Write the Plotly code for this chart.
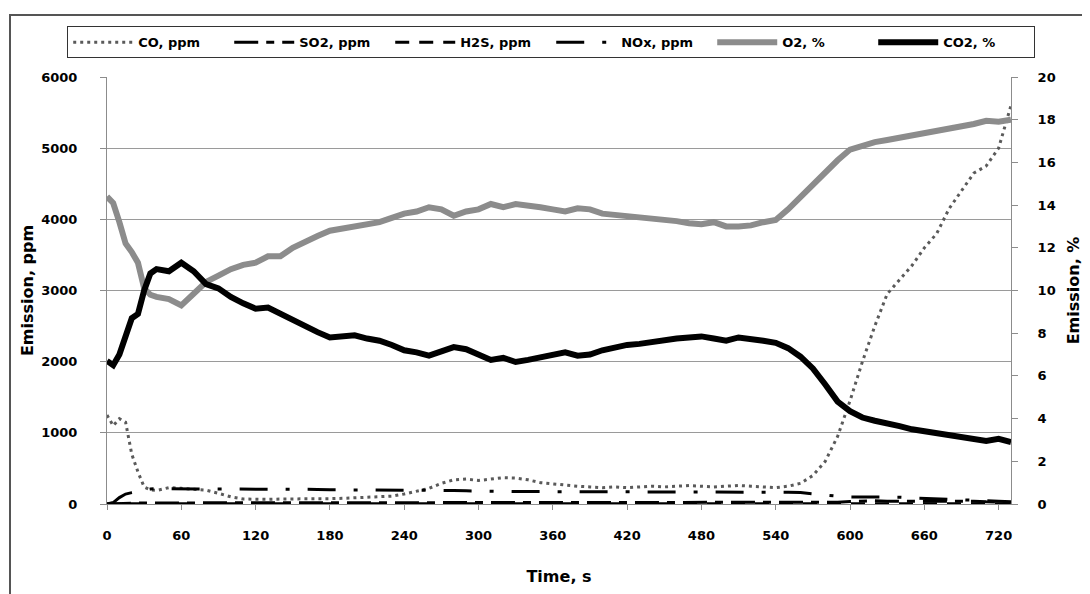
import plotly.graph_objects as go

# ---- data ----
time_s = [0, 5, 10, 15, 20, 25, 30, 35, 40, 50, 60, 70, 80, 90, 100, 110, 120, 130, 140, 150,
          160, 170, 180, 190, 200, 210, 220, 230, 240, 250, 260, 270, 280, 290, 300, 310, 320,
          330, 340, 350, 360, 370, 380, 390, 400, 410, 420, 430, 440, 450, 460, 470, 480, 490,
          500, 510, 520, 530, 540, 550, 560, 570, 580, 590, 600, 610, 620, 630, 640, 650, 660,
          670, 680, 690, 700, 710, 720, 730]

co_ppm = [1250, 1100, 1200, 1150, 700, 450, 240, 200, 190, 230, 220, 210, 195, 150, 100, 70, 65,
          65, 70, 70, 65, 70, 75, 80, 85, 90, 95, 110, 140, 180, 220, 290, 340, 350, 330, 350, 370,
          365, 340, 300, 280, 260, 250, 240, 230, 240, 230, 240, 250, 240, 250, 260, 250, 240,
          250, 260, 250, 240, 230, 250, 290, 400, 600, 950, 1450, 2000, 2500, 2950, 3150, 3350,
          3600, 3800, 4150, 4400, 4650, 4750, 5000, 5600]

so2_ppm = [0, 5, 10, 15, 15, 15, 15, 15, 15, 15, 15, 15, 15, 15, 15, 15, 15, 15, 15, 15,
           15, 15, 15, 15, 15, 15, 15, 15, 15, 15, 15, 15, 15, 15, 15, 15, 15, 15, 15, 15,
           15, 15, 15, 15, 15, 15, 15, 15, 15, 15, 15, 15, 15, 15, 15, 15, 15, 15, 15, 15,
           15, 15, 20, 25, 35, 45, 45, 40, 40, 40, 40, 40, 45, 40, 40, 30, 25, 20]

h2s_ppm = [0, 2, 3, 4, 5, 5, 5, 5, 5, 5, 5, 5, 5, 5, 5, 5, 5, 5, 5, 5,
           5, 5, 5, 5, 5, 5, 5, 5, 5, 5, 5, 5, 5, 5, 5, 5, 5, 5, 5, 5,
           5, 5, 5, 5, 5, 5, 5, 5, 5, 5, 5, 5, 5, 5, 5, 5, 5, 5, 5, 5,
           5, 5, 5, 5, 5, 5, 5, 5, 5, 5, 5, 5, 5, 5, 5, 5, 5, 5]

nox_ppm = [0, 20, 90, 140, 160, 180, 200, 210, 215, 215, 210, 210, 205, 205, 210, 210, 210,
           205, 205, 210, 210, 205, 200, 200, 200, 195, 195, 195, 195, 190, 190, 190, 190, 185,
           180, 175, 175, 175, 175, 175, 175, 175, 175, 175, 175, 175, 175, 175, 175, 175, 175,
           175, 175, 175, 175, 175, 175, 170, 170, 165, 160, 140, 120, 110, 100, 100, 100, 100,
           95, 85, 80, 70, 60, 60, 55, 45, 40, 30]

o2_pct = [14.4, 14.1, 13.2, 12.2, 11.8, 11.3, 10.1, 9.8, 9.7, 9.6, 9.3, 9.9, 10.4, 10.7, 11.0,
          11.2, 11.3, 11.6, 11.6, 12.0, 12.3, 12.55, 12.8, 12.9, 12.95, 13.1, 13.2, 13.4, 13.6,
          13.7, 13.9, 13.8, 13.5, 13.7, 13.8, 14.05, 13.9, 14.05, 14.0, 13.9, 13.8, 13.7, 13.85,
          13.8, 13.6, 13.55, 13.5, 13.45, 13.4, 13.35, 13.25, 13.15, 13.1, 13.2, 13.0, 13.0,
          13.05, 13.2, 13.3, 13.8, 14.4, 14.9, 15.5, 16.1, 16.6, 16.8, 16.95, 17.05, 17.15,
          17.3, 17.4, 17.5, 17.6, 17.65, 17.8, 17.95, 17.9, 18.0]

co2_pct = [6.7, 6.5, 7.0, 7.9, 8.7, 8.9, 10.0, 10.8, 11.0, 10.9, 11.3, 10.9, 10.3, 10.1, 9.7,
           9.4, 9.15, 9.2, 8.9, 8.6, 8.3, 8.05, 7.8, 7.85, 7.9, 7.75, 7.65, 7.45, 7.2, 7.1, 6.95,
           7.15, 7.35, 7.25, 7.0, 6.75, 6.85, 6.65, 6.75, 6.85, 7.0, 7.1, 6.95, 7.0, 7.2, 7.35,
           7.45, 7.5, 7.6, 7.65, 7.75, 7.8, 7.85, 7.75, 7.65, 7.8, 7.75, 7.65, 7.55, 7.3, 6.9,
           6.35, 5.6, 4.8, 4.35, 4.05, 3.9, 3.8, 3.65, 3.5, 3.4, 3.3, 3.2, 3.15, 3.0, 2.95, 3.05,
           2.9]

x_ticks = [0, 60, 120, 180, 240, 300, 360, 420, 480, 540, 600, 660, 720]
ppm_ticks = [0, 1000, 2000, 3000, 4000, 5000, 6000]
ppm_grid = [1000, 2000, 3000, 4000, 5000]
pct_ticks = [0, 2, 4, 6, 8, 10, 12, 14, 16, 18, 20]

FONT = "DejaVu Sans"
FS = 13
AX = "#8c8c8c"

fig = go.Figure()
fig.add_trace(go.Scatter(x=time_s, y=co_ppm, name="CO, ppm", mode="lines",
                         line=dict(color="#5a5a5a", width=3, dash="3px,4px")))
fig.add_trace(go.Scatter(x=time_s, y=so2_ppm, name="SO2, ppm", mode="lines",
                         line=dict(color="#000000", width=3, dash="24px,8px,8px,8px")))
fig.add_trace(go.Scatter(x=time_s, y=h2s_ppm, name="H2S, ppm", mode="lines",
                         line=dict(color="#000000", width=3, dash="14px,10px")))
fig.add_trace(go.Scatter(x=time_s, y=nox_ppm, name="NOx, ppm", mode="lines",
                         line=dict(color="#000000", width=3, dash="28px,18px,4px,18px")))
fig.add_trace(go.Scatter(x=time_s, y=o2_pct, name="O2, %", mode="lines", yaxis="y2",
                         line=dict(color="#8c8c8c", width=6)))
fig.add_trace(go.Scatter(x=time_s, y=co2_pct, name="CO2, %", mode="lines", yaxis="y2",
                         line=dict(color="#000000", width=6)))

# the page body adds an 8px offset; the figure's right 8px fall outside the window
fig.update_layout(
    width=1090, height=586,
    margin=dict(l=99, r=87, t=69, b=90),
    paper_bgcolor="white", plot_bgcolor="white",
    font=dict(family=FONT, size=FS, color="black", weight="bold"),
    showlegend=True,
    legend=dict(orientation="h", x=-0.044, xanchor="left", y=1.119, yanchor="top",
                bordercolor="#333333", borderwidth=1, bgcolor="white",
                itemwidth=60, entrywidth=86, entrywidthmode="pixels",
                font=dict(family=FONT, size=FS, color="black", weight="bold")),
    xaxis=dict(range=[0, 730], tickvals=x_ticks, showgrid=False, zeroline=False,
               showline=True, linecolor=AX, linewidth=1, ticks="outside", ticklen=5,
               tickcolor=AX, ticklabelstandoff=14,
               title=dict(text="Time, s", standoff=29)),
    yaxis=dict(range=[0, 6000], tickvals=ppm_ticks, showgrid=False, zeroline=False,
               showline=True, linecolor=AX, linewidth=1, ticks="outside", ticklen=6,
               tickcolor=AX, ticklabelstandoff=20,
               minor=dict(tickvals=ppm_grid, showgrid=True, gridcolor="#9a9a9a",
                          gridwidth=1, ticks=""),
               title=dict(text="Emission, ppm", standoff=3)),
    yaxis2=dict(range=[0, 20], tickvals=pct_ticks, overlaying="y", side="right",
                showgrid=False, zeroline=False, showline=True, linecolor=AX, linewidth=1,
                ticks="outside", ticklen=6, tickcolor=AX, ticklabelstandoff=17,
                automargin=True,
                title=dict(text="Emission, %", standoff=13)),
)

# outer chart-area frame (top and left edges visible in the reference)
fig.add_shape(type="rect", xref="paper", yref="paper", x0=-0.1073, x1=1.2, y0=-0.5, y1=1.1452,
              line=dict(color="#555555", width=2), fillcolor="rgba(0,0,0,0)", layer="below")

fig.write_html("out.html")
